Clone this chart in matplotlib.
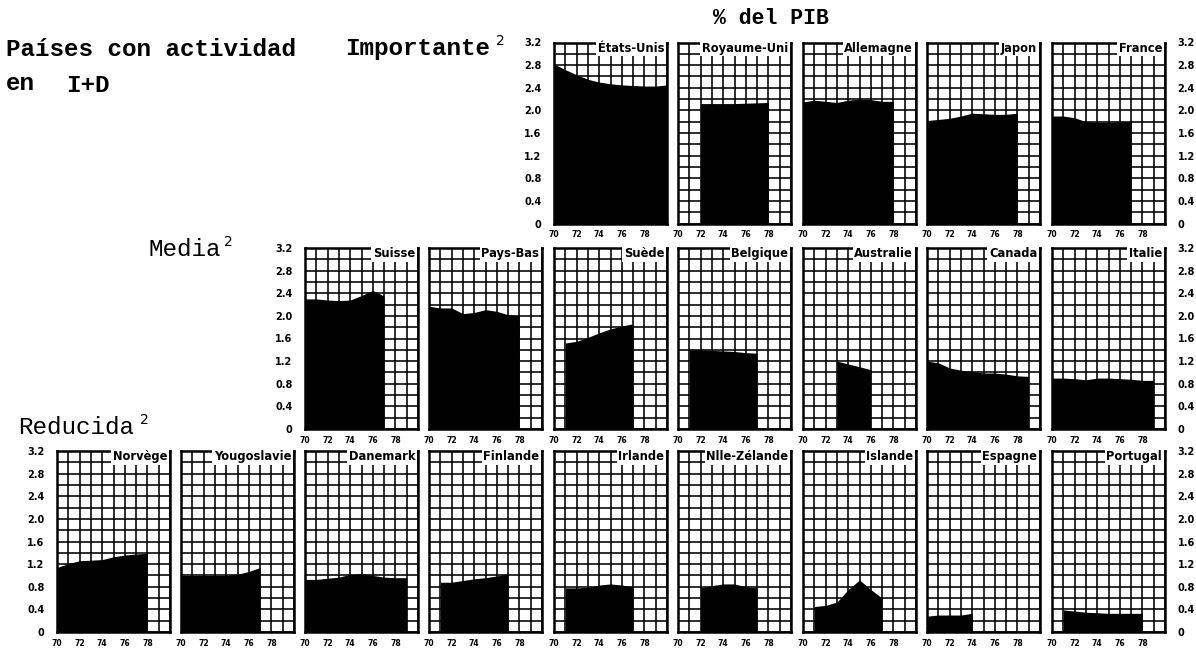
import matplotlib
matplotlib.use("Agg")
import matplotlib.pyplot as plt
from matplotlib.ticker import MultipleLocator, FixedLocator, FixedFormatter

# ---------------- data (R&D spending, % of GDP) ----------------
row_importante = ["États-Unis", "Royaume-Uni", "Allemagne", "Japon", "France"]
row_media = ["Suisse", "Pays-Bas", "Suède", "Belgique", "Australie", "Canada", "Italie"]
row_reducida = ["Norvège", "Yougoslavie", "Danemark", "Finlande", "Irlande",
                "Nlle-Zélande", "Islande", "Espagne", "Portugal"]

years_etats_unis = [70, 71, 72, 73, 74, 75, 76, 77, 78, 79, 80]
pib_etats_unis = [2.82, 2.72, 2.63, 2.55, 2.50, 2.47, 2.45, 2.44, 2.43, 2.43, 2.45]
years_royaume_uni = [72, 75, 78]
pib_royaume_uni = [2.12, 2.12, 2.14]
years_allemagne = [70, 71, 72, 73, 74, 75, 76, 77, 78]
pib_allemagne = [2.15, 2.18, 2.16, 2.14, 2.18, 2.20, 2.19, 2.16, 2.16]
years_japon = [70, 71, 72, 73, 74, 75, 76, 77, 78]
pib_japon = [1.82, 1.84, 1.86, 1.90, 1.95, 1.94, 1.93, 1.93, 1.95]
years_france = [70, 71, 72, 73, 74, 75, 76, 77]
pib_france = [1.90, 1.90, 1.87, 1.80, 1.79, 1.79, 1.80, 1.80]

years_suisse = [70, 71, 72, 73, 74, 75, 76, 77]
pib_suisse = [2.30, 2.30, 2.28, 2.27, 2.28, 2.36, 2.45, 2.35]
years_pays_bas = [70, 71, 72, 73, 74, 75, 76, 77, 78]
pib_pays_bas = [2.17, 2.14, 2.14, 2.04, 2.06, 2.11, 2.08, 2.02, 2.00]
years_suede = [71, 72, 73, 74, 75, 76, 77]
pib_suede = [1.52, 1.55, 1.62, 1.70, 1.77, 1.82, 1.86]
years_belgique = [71, 72, 73, 74, 75, 76, 77]
pib_belgique = [1.40, 1.40, 1.39, 1.38, 1.37, 1.35, 1.34]
years_australie = [73, 74, 75, 76]
pib_australie = [1.20, 1.15, 1.10, 1.05]
years_canada = [70, 71, 72, 73, 74, 75, 76, 77, 78, 79]
pib_canada = [1.20, 1.17, 1.08, 1.04, 1.02, 0.99, 0.99, 0.97, 0.94, 0.93]
years_italie = [70, 71, 72, 73, 74, 75, 76, 77, 78, 79]
pib_italie = [0.90, 0.90, 0.89, 0.87, 0.90, 0.90, 0.89, 0.88, 0.86, 0.86]

years_norvege = [70, 71, 72, 73, 74, 75, 76, 77, 78]
pib_norvege = [1.14, 1.21, 1.26, 1.27, 1.28, 1.33, 1.36, 1.38, 1.39]
years_yougoslavie = [70, 71, 72, 73, 74, 75, 76, 77]
pib_yougoslavie = [1.00, 1.00, 1.00, 1.00, 1.00, 1.02, 1.07, 1.14]
years_danemark = [70, 71, 72, 73, 74, 75, 76, 77, 78, 79]
pib_danemark = [0.93, 0.93, 0.95, 0.97, 1.02, 1.03, 1.00, 0.97, 0.96, 0.96]
years_finlande = [71, 72, 73, 74, 75, 76, 77]
pib_finlande = [0.88, 0.88, 0.91, 0.94, 0.96, 0.99, 1.03]
years_irlande = [71, 72, 73, 74, 75, 76, 77]
pib_irlande = [0.78, 0.78, 0.79, 0.83, 0.85, 0.83, 0.80]
years_nlle_zelande = [72, 73, 74, 75, 76, 77]
pib_nlle_zelande = [0.78, 0.82, 0.85, 0.85, 0.80, 0.78]
years_islande = [71, 72, 73, 74, 75, 76, 77]
pib_islande = [0.45, 0.47, 0.53, 0.75, 0.92, 0.75, 0.60]
years_espagne = [70, 71, 72, 73, 74]
pib_espagne = [0.28, 0.30, 0.30, 0.30, 0.33]
years_portugal = [71, 72, 73, 74, 75, 76, 77, 78]
pib_portugal = [0.39, 0.37, 0.35, 0.34, 0.33, 0.33, 0.33, 0.33]

x_tick_labels = ["70", "72", "74", "76", "78"]
y_tick_labels = ["0", "0.4", "0.8", "1.2", "1.6", "2.0", "2.4", "2.8", "3.2"]

series = {
    "États-Unis": (years_etats_unis, pib_etats_unis),
    "Royaume-Uni": (years_royaume_uni, pib_royaume_uni),
    "Allemagne": (years_allemagne, pib_allemagne),
    "Japon": (years_japon, pib_japon),
    "France": (years_france, pib_france),
    "Suisse": (years_suisse, pib_suisse),
    "Pays-Bas": (years_pays_bas, pib_pays_bas),
    "Suède": (years_suede, pib_suede),
    "Belgique": (years_belgique, pib_belgique),
    "Australie": (years_australie, pib_australie),
    "Canada": (years_canada, pib_canada),
    "Italie": (years_italie, pib_italie),
    "Norvège": (years_norvege, pib_norvege),
    "Yougoslavie": (years_yougoslavie, pib_yougoslavie),
    "Danemark": (years_danemark, pib_danemark),
    "Finlande": (years_finlande, pib_finlande),
    "Irlande": (years_irlande, pib_irlande),
    "Nlle-Zélande": (years_nlle_zelande, pib_nlle_zelande),
    "Islande": (years_islande, pib_islande),
    "Espagne": (years_espagne, pib_espagne),
    "Portugal": (years_portugal, pib_portugal),
}

# ---------------- layout ----------------
W, H = 1196, 648
fig = plt.figure(figsize=(W / 100, H / 100), dpi=100)
fig.patch.set_facecolor("white")

col_left_px = [57, 181, 305, 429, 554, 678, 803, 927, 1052]
panel_w = 113
panel_h = 181
row_top_px = [42.5, 248, 451]
rows = [(4, row_importante), (2, row_media), (0, row_reducida)]

for r, (start_col, names) in enumerate(rows):
    for k, name in enumerate(names):
        c = start_col + k
        left = col_left_px[c] / W
        bottom = 1 - (row_top_px[r] + panel_h) / H
        ax = fig.add_axes([left, bottom, panel_w / W, panel_h / H])
        yrs, vals = series[name]
        ax.fill_between(yrs, vals, 0, color="black", linewidth=0, zorder=2)
        ax.set_xlim(70, 80)
        ax.set_ylim(0, 3.2)
        ax.xaxis.set_major_locator(FixedLocator([70, 72, 74, 76, 78]))
        ax.xaxis.set_major_formatter(FixedFormatter(x_tick_labels))
        ax.xaxis.set_minor_locator(MultipleLocator(1))
        ax.yaxis.set_major_locator(FixedLocator([0, 0.4, 0.8, 1.2, 1.6, 2.0, 2.4, 2.8, 3.2]))
        ax.yaxis.set_major_formatter(FixedFormatter(y_tick_labels))
        ax.yaxis.set_minor_locator(MultipleLocator(0.2))
        ax.set_axisbelow(True)
        ax.grid(which="both", color="black", linewidth=1.15)
        ax.tick_params(which="both", length=0)
        ax.tick_params(axis="x", labelsize=5.5, pad=5)
        ax.tick_params(axis="y", labelsize=7, pad=9,
                       labelleft=(k == 0), labelright=(c == 8))
        for lab in ax.get_xticklabels() + ax.get_yticklabels():
            lab.set_fontweight("bold")
        for sp in ax.spines.values():
            sp.set_linewidth(1.8)
            sp.set_color("black")
        ax.text(79.75, 3.1, name, ha="right", va="center", fontsize=8.3,
                fontweight="bold", color="black", zorder=5,
                bbox=dict(facecolor="white", edgecolor="none", pad=1.2))

# ---------------- titles ----------------
mono = "Liberation Mono"
fig.text(771 / W, 1 - 18 / H, "% del PIB", ha="center", va="center",
         fontsize=15.5, fontweight="bold", family=mono)
fig.text(6 / W, 1 - 49 / H, "Países con actividad", ha="left", va="center",
         fontsize=17.5, fontweight="bold", family=mono)
fig.text(345 / W, 1 - 49 / H, "Importante", ha="left", va="center",
         fontsize=17.5, fontweight="bold", family=mono)
fig.text(496 / W, 1 - 41 / H, "2", ha="left", va="center",
         fontsize=10, family="DejaVu Sans")
fig.text(6 / W, 1 - 84 / H, "en", ha="left", va="center",
         fontsize=17.5, fontweight="bold", family=mono)
fig.text(66 / W, 1 - 86 / H, "I+D", ha="left", va="center",
         fontsize=17.5, fontweight="bold", family=mono)
fig.text(148 / W, 1 - 250 / H, "Media", ha="left", va="center",
         fontsize=17.5, family=mono)
fig.text(224 / W, 1 - 242 / H, "2", ha="left", va="center",
         fontsize=10, family="DejaVu Sans")
fig.text(18 / W, 1 - 428 / H, "Reducida", ha="left", va="center",
         fontsize=17.5, family=mono)
fig.text(140 / W, 1 - 420 / H, "2", ha="left", va="center",
         fontsize=10, family="DejaVu Sans")

fig.savefig("out.png", dpi=100, facecolor="white")
